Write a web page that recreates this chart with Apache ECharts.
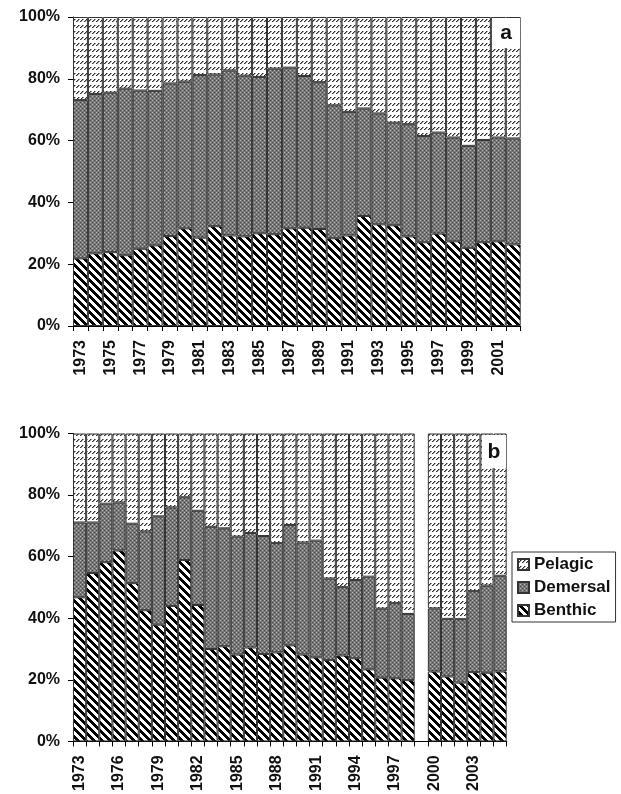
<!DOCTYPE html>
<html>
<head>
<meta charset="utf-8">
<script src="https://cdn.jsdelivr.net/npm/echarts@6/dist/echarts.min.js"></script>
<style>
  html, body { margin: 0; padding: 0; background: #fff; }
  #chart { width: 621px; height: 794px; }
</style>
</head>
<body>
<div id="chart"></div>
<script>
// Panel a: catch composition by habitat group, 1973-2002 (% of total)
const yearsA = ['1973','1974','1975','1976','1977','1978','1979','1980','1981','1982',
  '1983','1984','1985','1986','1987','1988','1989','1990','1991','1992',
  '1993','1994','1995','1996','1997','1998','1999','2000','2001','2002'];
const benthicA = [21.9, 23.5, 23.9, 22.9, 25.0, 26.1, 29.1, 31.6, 28.6, 32.3,
  29.3, 29.0, 30.0, 29.7, 31.6, 31.8, 31.4, 28.4, 29.3, 35.6,
  32.9, 32.6, 29.0, 27.1, 29.9, 27.4, 25.3, 27.1, 27.4, 26.4];
const demersalA = [51.2, 51.6, 51.6, 53.9, 51.2, 50.0, 49.4, 47.5, 52.6, 49.1,
  53.4, 52.0, 50.6, 53.6, 52.0, 49.1, 47.5, 43.0, 40.0, 34.8,
  35.9, 33.2, 36.3, 34.4, 32.7, 33.6, 33.0, 33.1, 33.6, 34.3];
const pelagicA = [26.9, 24.9, 24.5, 23.2, 23.8, 23.9, 21.5, 20.9, 18.8, 18.6,
  17.3, 19.0, 19.4, 16.7, 16.4, 19.1, 21.1, 28.6, 30.7, 29.6,
  31.2, 34.2, 34.7, 38.5, 37.4, 39.0, 41.7, 39.8, 39.0, 39.3];

// Panel b: 1973-2005, no record for 1999
const yearsB = ['1973','1974','1975','1976','1977','1978','1979','1980','1981','1982',
  '1983','1984','1985','1986','1987','1988','1989','1990','1991','1992',
  '1993','1994','1995','1996','1997','1998','1999','2000','2001','2002',
  '2003','2004','2005'];
const benthicB = [46.8, 54.7, 58.2, 62.0, 51.4, 42.6, 37.9, 44.0, 58.9, 44.3,
  30.0, 30.9, 28.2, 30.5, 28.4, 28.9, 31.2, 28.2, 27.3, 26.4,
  27.9, 27.0, 23.4, 20.7, 20.5, 19.9, '-', 22.7, 21.1, 19.1,
  22.5, 22.3, 22.7];
const demersalB = [24.3, 16.4, 19.0, 15.6, 19.3, 25.6, 35.2, 32.0, 20.4, 30.6,
  39.7, 38.3, 38.3, 37.2, 38.3, 35.5, 39.1, 36.4, 37.9, 26.5,
  22.2, 25.4, 30.1, 22.4, 24.4, 21.5, '-', 20.5, 18.7, 20.6,
  26.3, 28.3, 31.1];
const pelagicB = [28.9, 28.9, 22.8, 22.4, 29.3, 31.8, 26.9, 24.0, 20.7, 25.1,
  30.3, 30.8, 33.5, 32.3, 33.3, 35.6, 29.7, 35.4, 34.8, 47.1,
  49.9, 47.6, 46.5, 56.9, 55.1, 58.6, '-', 56.8, 60.2, 60.3,
  51.2, 49.4, 46.2];

const groupNames = ['Pelagic', 'Demersal', 'Benthic'];
const percentTicks = [0, 20, 40, 60, 80, 100];

// Hatch fills drawn on small tiles and repeated
function makeTile(w, h, paint) {
  const c = document.createElement('canvas');
  c.width = w; c.height = h;
  paint(c.getContext('2d'), w, h);
  return { image: c, repeat: 'repeat' };
}
const pelagicFill = makeTile(4, 6, (g, w, h) => {
  g.fillStyle = '#ffffff'; g.fillRect(0, 0, w, h);
  g.fillStyle = '#2e2e2e';
  g.fillRect(0, 3, 1, 1); g.fillRect(1, 2, 1, 1); g.fillRect(2, 1, 1, 1);
  g.fillStyle = '#9a9a9a';
  g.fillRect(1, 3, 1, 1); g.fillRect(2, 2, 1, 1); g.fillRect(3, 1, 1, 1);
});
const demersalFill = makeTile(4, 4, (g, w, h) => {
  g.fillStyle = '#777777'; g.fillRect(0, 0, w, h);
  g.fillStyle = '#bababa'; g.fillRect(0, 0, 1, 1); g.fillRect(2, 2, 1, 1);
  g.fillStyle = '#484848'; g.fillRect(2, 0, 1, 1); g.fillRect(0, 2, 1, 1);
});
const benthicFill = makeTile(8, 8, (g, w, h) => {
  g.fillStyle = '#ffffff'; g.fillRect(0, 0, w, h);
  g.fillStyle = '#000000';
  for (let y = 0; y < h; y++) {
    for (let x = 0; x < w; x++) {
      if ((((x - y) % 8) + 8) % 8 < 4) g.fillRect(x, y, 1, 1);
    }
  }
});

const FONT = 'Liberation Sans, Arial, sans-serif';
const labelStyle = { fontSize: 16, fontWeight: 'bold', fontFamily: FONT, color: '#111' };

function xAxisFor(gridIndex, cats, labelEvery) {
  return {
    gridIndex, type: 'category', data: cats, boundaryGap: true,
    axisLine: { show: true, lineStyle: { color: '#000', width: 1 } },
    axisTick: { show: true, interval: 0, length: 5, lineStyle: { color: '#000' } },
    axisLabel: Object.assign({ interval: labelEvery - 1, rotate: 90, margin: 14 }, labelStyle),
    splitLine: { show: false }
  };
}
function yAxisFor(gridIndex) {
  return {
    gridIndex, type: 'value',
    min: percentTicks[0], max: percentTicks[percentTicks.length - 1], interval: 20,
    axisLine: { show: true, lineStyle: { color: '#000', width: 1 } },
    axisTick: { show: true, length: 5, lineStyle: { color: '#000' } },
    axisLabel: Object.assign({ formatter: '{value}%', margin: 13 }, labelStyle),
    splitLine: { show: false }
  };
}
function stackFor(gridIndex, ben, dem, pel) {
  const base = {
    type: 'bar', stack: 'share' + gridIndex, xAxisIndex: gridIndex, yAxisIndex: gridIndex,
    barCategoryGap: '0%', barGap: '0%', silent: true
  };
  const border = { borderColor: '#333', borderWidth: 1 };
  return [
    Object.assign({}, base, { name: 'Benthic', data: ben, itemStyle: Object.assign({ color: benthicFill }, border) }),
    Object.assign({}, base, { name: 'Demersal', data: dem, itemStyle: Object.assign({ color: demersalFill }, border) }),
    Object.assign({}, base, { name: 'Pelagic', data: pel, itemStyle: Object.assign({ color: pelagicFill }, border) })
  ];
}

const chart = echarts.init(document.getElementById('chart'), null, { renderer: 'canvas' });
chart.setOption({
  animation: false,
  backgroundColor: '#fff',
  grid: [
    { left: 73, top: 17, width: 447.7, height: 309 },
    { left: 73, top: 433.5, width: 433.7, height: 308.2 }
  ],
  xAxis: [xAxisFor(0, yearsA, 2), xAxisFor(1, yearsB, 3)],
  yAxis: [yAxisFor(0), yAxisFor(1)],
  legend: {
    data: groupNames, orient: 'vertical', left: 512, top: 552,
    icon: 'rect', itemWidth: 11, itemHeight: 11, itemGap: 6,
    padding: [4, 5, 3, 5], borderColor: '#333', borderWidth: 1,
    selectedMode: false,
    textStyle: { fontSize: 17, fontWeight: 'bold', fontFamily: FONT, color: '#111' }
  },
  graphic: [
    { type: 'rect', z: 100, shape: { x: 492, y: 18, width: 28, height: 30 }, style: { fill: '#fff' } },
    { type: 'text', z: 101, x: 506, y: 33, style: { text: 'a', fontSize: 21, fontWeight: 'bold', fontFamily: FONT, fill: '#111', align: 'center', verticalAlign: 'middle' } },
    { type: 'rect', z: 100, shape: { x: 482, y: 435, width: 24, height: 33 }, style: { fill: '#fff' } },
    { type: 'text', z: 101, x: 494, y: 452, style: { text: 'b', fontSize: 21, fontWeight: 'bold', fontFamily: FONT, fill: '#111', align: 'center', verticalAlign: 'middle' } }
  ],
  series: [].concat(
    stackFor(0, benthicA, demersalA, pelagicA),
    stackFor(1, benthicB, demersalB, pelagicB)
  )
});
</script>
</body>
</html>
